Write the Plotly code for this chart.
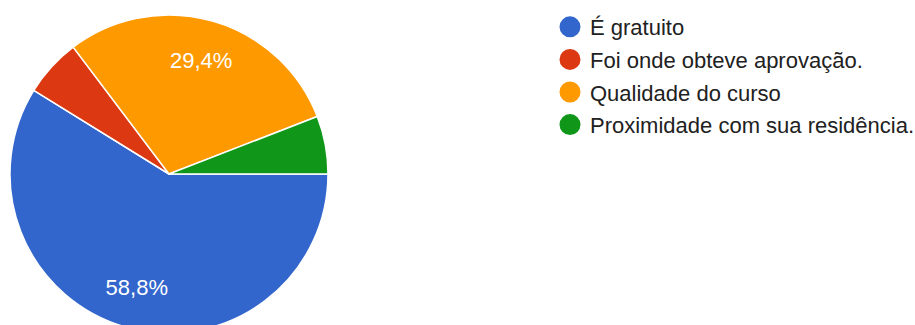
import plotly.graph_objects as go

categories = ["É gratuito", "Foi onde obteve aprovação.", "Qualidade do curso", "Proximidade com sua residência."]
counts = [10, 1, 5, 1]
colors = ["#3366CC", "#DC3912", "#FF9900", "#109618"]
show_label = [True, False, True, False]

W, H = 930, 340
cx, cy, R = 169, 174, 159
dom = dict(x=[(cx - R) / W, (cx + R) / W], y=[1 - (cy + R) / H, 1 - (cy - R) / H])

fig = go.Figure()
# coloured slices
fig.add_trace(go.Pie(
    labels=categories,
    values=counts,
    sort=False,
    direction="clockwise",
    rotation=90,
    marker=dict(colors=colors, line=dict(color="white", width=1.5)),
    textinfo="none",
    showlegend=False,
    hoverinfo="label+percent",
    domain=dom,
))
# transparent ring carrying the percentage labels
fig.add_trace(go.Pie(
    labels=categories,
    values=counts,
    sort=False,
    direction="clockwise",
    rotation=90,
    hole=0.48,
    marker=dict(colors=["rgba(0,0,0,0)"] * len(categories), line=dict(width=0)),
    texttemplate=["%{percent:.1%}" if s else "" for s in show_label],
    textposition="inside",
    insidetextorientation="horizontal",
    textfont=dict(family="Arial, Liberation Sans", size=22, color="white"),
    showlegend=False,
    hoverinfo="skip",
    domain=dom,
))

for name, col in zip(categories, colors):
    fig.add_trace(go.Scatter(
        x=[None], y=[None], mode="markers", name=name,
        marker=dict(symbol="circle", size=16, color=col, line=dict(color=col, width=5)),
        legendgroup=name,
    ))

fig.update_layout(
    width=W, height=H,
    margin=dict(l=0, r=0, t=0, b=0),
    paper_bgcolor="white", plot_bgcolor="white",
    separators=",.",
    uniformtext=dict(minsize=22, mode="show"),
    xaxis=dict(visible=False), yaxis=dict(visible=False),
    legend=dict(
        x=550 / W, xanchor="left", y=1 - 6 / H, yanchor="top",
        font=dict(family="Arial, Liberation Sans", size=22, color="#212121"),
        tracegroupgap=1, itemclick=False, itemdoubleclick=False,
        bgcolor="rgba(0,0,0,0)",
    ),
)

fig.write_html("out.html", post_script="document.body.style.overflow='hidden';document.body.style.margin='0';")
